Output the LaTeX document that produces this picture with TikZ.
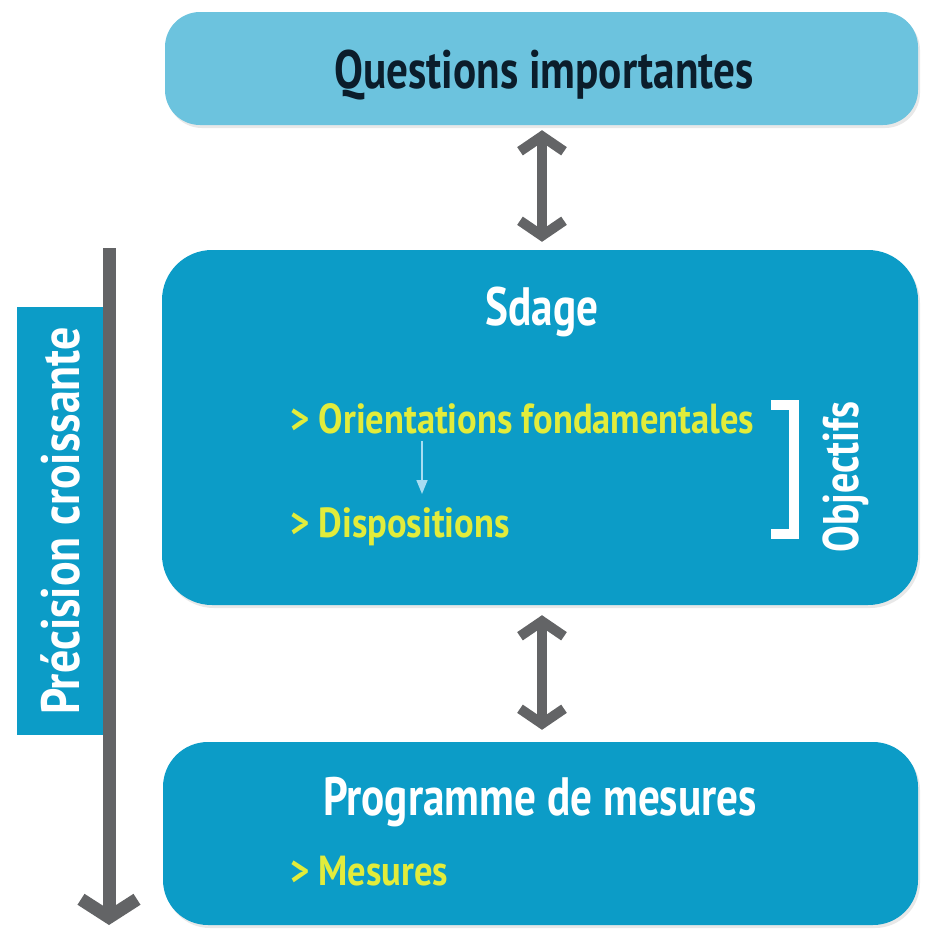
\documentclass[tikz,border=0pt]{standalone}
\usepackage{fontspec}
\setmainfont{PT Sans}[FakeStretch=0.8]
\newfontfamily\itemfont{PT Sans}[FakeStretch=0.87]
\newfontfamily\sidefont{PT Sans}[FakeStretch=0.85]
\usetikzlibrary{arrows.meta,shadows}
\definecolor{lightbox}{HTML}{6CC3DE}
\definecolor{mainbox}{HTML}{0C9CC7}
\definecolor{greyarrow}{HTML}{636466}
\definecolor{yellowtxt}{HTML}{E2EC3B}
\definecolor{darktxt}{HTML}{0B1D2B}
\definecolor{smallarrow}{HTML}{A8DDF2}
\tikzset{
  box/.style={rounded corners=#1, fill=mainbox, draw=none, inner sep=0pt,
    drop shadow={opacity=0.18, shadow xshift=2pt, shadow yshift=-3pt}},
  bigtxt/.style={font=\fontsize{54}{58}\selectfont\bfseries, inner sep=0pt, anchor=base},
  itemtxt/.style={font=\itemfont\fontsize{42}{46}\selectfont\bfseries, text=yellowtxt, inner sep=0pt, anchor=base west},
  dblarrow/.style={draw=greyarrow, line width=10pt, {Straight Barb[length=15pt,width=44pt]}-{Straight Barb[length=15pt,width=44pt]}},
}
\begin{document}
\begin{tikzpicture}[x=1pt,y=-1pt]
\useasboundingbox (0,0) rectangle (928,930);
% boxes
\node[box=35, fill=lightbox, minimum width=753pt, minimum height=113pt] (q) at (541.5,68.5) {};
\node[box=50, minimum width=756pt, minimum height=355pt] (s) at (540,427.5) {};
\node[box=45, minimum width=755pt, minimum height=183pt] (m) at (540.5,833.5) {};
% texts
\node[bigtxt, text=darktxt] (qt) at (544,88) {Questions importantes};
\node[bigtxt, text=white] (st) at (542,325) {Sdage};
\node[itemtxt] (o) at (290,433) {> Orientations fondamentales};
\node[itemtxt] (d) at (290,537) {> Dispositions};
\node[bigtxt, text=white] (mt) at (540,815) {Programme de mesures};
\node[itemtxt] (me) at (290,885) {> Mesures};
\node[font=\fontsize{50}{54}\selectfont\bfseries, text=white, rotate=90, inner sep=0pt] (obj) at (846,477) {Objectifs};
% small arrow
\coordinate (sa1) at (422,441);
\coordinate (sa2) at (422,494);
\draw[draw=smallarrow, line width=1.6pt, -{Triangle[length=14pt,width=11pt]}] (sa1) -- (sa2);
% bracket
\coordinate (b1) at (771,405);
\coordinate (b2) at (794,405);
\coordinate (b3) at (794,534);
\coordinate (b4) at (771,534);
\draw[white, line width=10pt] (b1) -- (b2) -- (b3) -- (b4);
% double arrows
\draw[dblarrow, shorten <=5pt, shorten >=8pt] (q.south -| st) -- (s.north -| st);
\draw[dblarrow, shorten <=10pt, shorten >=12pt] (s.south -| st) -- (m.north -| st);
% left label
\node[fill=mainbox, minimum width=92pt, minimum height=428pt, inner sep=0pt] (pl) at (63,521) {};
\node[font=\sidefont\fontsize{54}{58}\selectfont\bfseries, text=white, rotate=90, inner sep=0pt] (plt) at (60,521) {Précision croissante};
% left arrow
\coordinate (la1) at (109,248);
\coordinate (la2) at (109,925);
\draw[draw=greyarrow, line width=13pt, -{Straight Barb[length=18pt,width=56pt]}] (la1) -- (la2);
\end{tikzpicture}
\end{document}
